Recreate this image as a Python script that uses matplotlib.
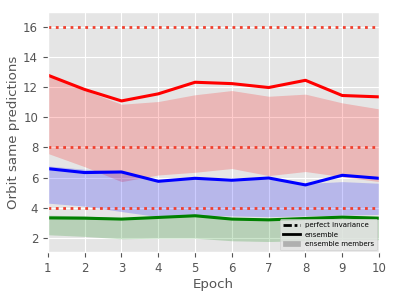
import numpy as np
import matplotlib
matplotlib.use("Agg")
import matplotlib.pyplot as plt
from matplotlib.lines import Line2D
from matplotlib.patches import Patch

plt.style.use("ggplot")
plt.rcParams["font.size"] = 8

# data
epochs = [1, 2, 3, 4, 5, 6, 7, 8, 9, 10]

red_ens = [12.8, 11.85, 11.09, 11.56, 12.33, 12.24, 11.98, 12.46, 11.45, 11.36]
red_hi = [12.9, 11.8, 10.87, 11.05, 11.5, 11.78, 11.4, 11.54, 10.96, 10.56]
red_lo = [7.6, 6.72, 5.73, 6.17, 6.35, 6.6, 6.13, 6.4, 6.06, 5.73]

blue_ens = [6.59, 6.33, 6.37, 5.75, 5.95, 5.82, 5.97, 5.51, 6.15, 5.95]
blue_hi = [6.77, 6.55, 6.45, 5.85, 6.0, 5.9, 5.9, 5.6, 5.73, 5.62]
blue_lo = [4.3, 4.1, 3.74, 3.4, 3.5, 3.45, 3.4, 3.45, 3.5, 3.55]

green_ens = [3.32, 3.3, 3.24, 3.35, 3.46, 3.24, 3.19, 3.28, 3.37, 3.3]
green_hi = [3.5, 3.45, 3.32, 3.42, 3.59, 3.35, 3.3, 3.38, 3.48, 3.42]
green_lo = [2.2, 2.09, 1.93, 1.97, 1.97, 1.8, 1.75, 1.8, 1.85, 1.87]

invariance = [16, 8, 4]

fig = plt.figure(figsize=(3.99, 2.99), dpi=100)
ax = fig.add_axes([0.12, 0.157, 0.83, 0.803])

for y in invariance:
    ax.axhline(y, color="#f0402f", linestyle=":", linewidth=2)

ax.fill_between(epochs, red_lo, red_hi, color="red", alpha=0.2, linewidth=0)
ax.fill_between(epochs, blue_lo, blue_hi, color="blue", alpha=0.2, linewidth=0)
ax.fill_between(epochs, green_lo, green_hi, color="green", alpha=0.2, linewidth=0)

ax.plot(epochs, red_ens, color="red", linewidth=2.2)
ax.plot(epochs, blue_ens, color="blue", linewidth=2.2)
ax.plot(epochs, green_ens, color="green", linewidth=2.2)

ax.set_xlim(1, 10)
ax.set_ylim(1.05, 17)
ax.set_xticks(epochs)
ax.set_yticks([2, 4, 6, 8, 10, 12, 14, 16])
ax.tick_params(labelsize=8.5, colors="#555555")
ax.set_xlabel("Epoch", fontsize=9.6, color="#555555", labelpad=2)
ax.set_ylabel("Orbit same predictions", fontsize=9.6, color="#555555", labelpad=2)

handles = [
    Line2D([0], [0], color="black", linestyle=(0, (3, 1, 1, 1)), linewidth=2),
    Line2D([0], [0], color="black", linewidth=2),
    Patch(color="#b0b0b0"),
]
ax.legend(handles, ["perfect invariance", "ensemble", "ensemble members"],
          loc="lower right", fontsize=5, handlelength=2.4, borderpad=0.4,
          labelspacing=0.5, borderaxespad=0.3)

fig.savefig("out.png", dpi=100)
